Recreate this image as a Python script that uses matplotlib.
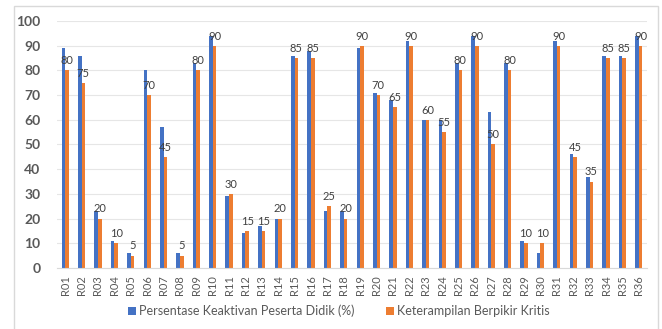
"""
Keaktivan peserta didik vs keterampilan berpikir kritis, per responden.
"""

import matplotlib
matplotlib.use("Agg")
import matplotlib.pyplot as plot
import matplotlib.patches as patches
import numpy

respondents = ["R{:02d}".format(i) for i in range(1, 37)]

keaktivan = [89, 86, 23, 11, 6, 80, 57, 6, 83, 94,
             29, 14, 17, 20, 86, 88, 23, 23, 89, 71,
             68, 92, 60, 60, 83, 94, 63, 83, 11, 6,
             92, 46, 37, 86, 86, 94]

berpikir_kritis = [80, 75, 20, 10, 5, 70, 45, 5, 80, 90,
                   30, 15, 15, 20, 85, 85, 25, 20, 90, 70,
                   65, 90, 60, 55, 80, 90, 50, 80, 10, 10,
                   90, 45, 35, 85, 85, 90]

series_names = ["Persentase Keaktivan Peserta Didik (%)",
                "Keterampilan Berpikir Kritis"]

BLUE = "#4472C4"
ORANGE = "#ED7D31"
TEXT = "#595959"

plot.rcParams["font.family"] = ["Lato", "DejaVu Sans"]

figure = plot.figure(figsize=(6.62, 3.29), dpi=100)
axes = figure.add_axes([0.0861, 0.1854, 0.8912, 0.7508])

# light chart border, running off the bottom like in the original
figure.patches.append(patches.Rectangle((14 / 662, -0.05), 644 / 662, 1.05 - 6 / 329,
                                        transform=figure.transFigure, fill=False,
                                        edgecolor="#D9D9D9", linewidth=1.0))

x = numpy.arange(len(respondents))
width = 0.22
bars_1 = axes.bar(x - width / 2, keaktivan, width, color=BLUE, label=series_names[0], zorder=2)
bars_2 = axes.bar(x + width / 2, berpikir_kritis, width, color=ORANGE, label=series_names[1], zorder=2)

for rect in bars_2:
  height = rect.get_height()
  axes.annotate("{}".format(int(height)),
                xy=(rect.get_x() + rect.get_width() / 2, height),
                xytext=(0, 3), textcoords="offset points",
                ha="center", va="bottom", fontsize=8, color="#404040", zorder=3)

axes.set_xlim(-0.5, len(respondents) - 0.5)
axes.set_ylim(0, 100)
axes.set_yticks(range(0, 101, 10))
axes.set_xticks(x)
axes.set_xticklabels(respondents, rotation=90, fontsize=8, color=TEXT)
axes.tick_params(axis="both", length=0)
axes.tick_params(axis="y", pad=12, labelsize=10, labelcolor=TEXT)
axes.tick_params(axis="x", pad=5)
for label in axes.get_yticklabels():
  label.set_fontweight("bold")

axes.grid(axis="y", color="#E6E6E6", linewidth=0.8, zorder=0)
for side in ["top", "right", "left"]:
  axes.spines[side].set_visible(False)
axes.spines["bottom"].set_color("#D9D9D9")

figure.legend(loc="center", bbox_to_anchor=(0.512, 0.055), ncol=2, frameon=False,
              fontsize=9, handlelength=0.6, handleheight=0.6, columnspacing=2.5,
              handletextpad=0.3, labelcolor=TEXT)

figure.savefig("out.png", dpi=100)
plot.close()
